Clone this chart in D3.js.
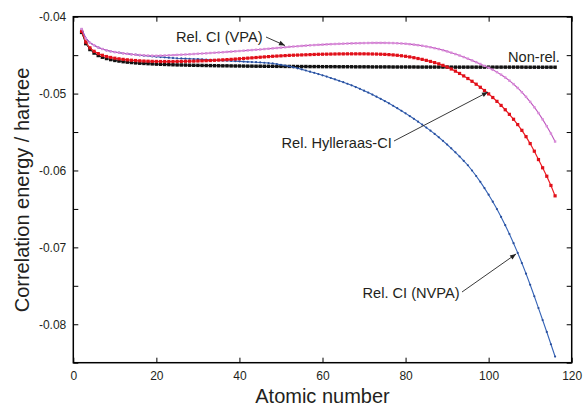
<!DOCTYPE html>
<html><head><meta charset="utf-8">
<script src="https://cdn.jsdelivr.net/npm/d3@7"></script>
<style>
html,body{margin:0;padding:0;background:#fff;}
svg{display:block;font-family:"Liberation Sans",Arial,sans-serif;}
</style></head>
<body><svg id="c" width="583" height="409"></svg>
<script>
// Atomic numbers Z = 2..116
const atomicNumbers = d3.range(2, 117);

const nonRel = [
-0.04204,-0.04350,-0.04427,-0.04473,-0.04505,-0.04527,-0.04544,-0.04558,-0.04569,-0.04577,
-0.04585,-0.04591,-0.04596,-0.04601,-0.04605,-0.04608,-0.04611,-0.04614,-0.04617,-0.04619,
-0.04621,-0.04623,-0.04625,-0.04627,-0.04628,-0.04629,-0.04631,-0.04632,-0.04633,-0.04634,
-0.04635,-0.04636,-0.04637,-0.04638,-0.04639,-0.04639,-0.04640,-0.04641,-0.04641,-0.04642,
-0.04643,-0.04643,-0.04644,-0.04644,-0.04645,-0.04645,-0.04645,-0.04646,-0.04646,-0.04647,
-0.04647,-0.04647,-0.04648,-0.04648,-0.04648,-0.04649,-0.04649,-0.04649,-0.04650,-0.04650,
-0.04650,-0.04650,-0.04651,-0.04651,-0.04651,-0.04651,-0.04652,-0.04652,-0.04652,-0.04652,
-0.04653,-0.04653,-0.04653,-0.04653,-0.04653,-0.04654,-0.04654,-0.04654,-0.04654,-0.04654,
-0.04654,-0.04655,-0.04655,-0.04655,-0.04655,-0.04655,-0.04655,-0.04655,-0.04655,-0.04656,
-0.04656,-0.04656,-0.04656,-0.04656,-0.04656,-0.04656,-0.04656,-0.04656,-0.04656,-0.04656,
-0.04656,-0.04656,-0.04656,-0.04656,-0.04656,-0.04656,-0.04656,-0.04657,-0.04657,-0.04657,
-0.04657,-0.04657,-0.04657,-0.04657,-0.04657];

const relCIVPA = [
-0.04160,-0.04280,-0.04340,-0.04370,-0.04400,-0.04420,-0.04437,-0.04450,-0.04460,-0.04468,
-0.04476,-0.04483,-0.04489,-0.04494,-0.04498,-0.04502,-0.04505,-0.04507,-0.04508,-0.04506,
-0.04504,-0.04502,-0.04500,-0.04497,-0.04494,-0.04491,-0.04488,-0.04485,-0.04482,-0.04479,
-0.04476,-0.04472,-0.04469,-0.04465,-0.04462,-0.04458,-0.04454,-0.04450,-0.04446,-0.04442,
-0.04438,-0.04434,-0.04430,-0.04426,-0.04421,-0.04417,-0.04412,-0.04407,-0.04402,-0.04397,
-0.04392,-0.04388,-0.04384,-0.04380,-0.04376,-0.04372,-0.04369,-0.04366,-0.04363,-0.04360,
-0.04357,-0.04355,-0.04353,-0.04351,-0.04349,-0.04347,-0.04345,-0.04344,-0.04343,-0.04342,
-0.04341,-0.04341,-0.04341,-0.04341,-0.04342,-0.04343,-0.04345,-0.04348,-0.04352,-0.04357,
-0.04363,-0.04370,-0.04378,-0.04387,-0.04397,-0.04409,-0.04421,-0.04435,-0.04451,-0.04468,
-0.04486,-0.04505,-0.04525,-0.04546,-0.04568,-0.04591,-0.04615,-0.04640,-0.04664,-0.04691,
-0.04721,-0.04754,-0.04791,-0.04832,-0.04877,-0.04927,-0.04982,-0.05042,-0.05107,-0.05177,
-0.05253,-0.05335,-0.05424,-0.05520,-0.05624];

const relHylleraasCI = [
-0.04190,-0.04330,-0.04405,-0.04450,-0.04480,-0.04502,-0.04518,-0.04530,-0.04540,-0.04548,
-0.04555,-0.04561,-0.04566,-0.04570,-0.04574,-0.04577,-0.04579,-0.04581,-0.04582,-0.04583,
-0.04583,-0.04583,-0.04583,-0.04582,-0.04581,-0.04580,-0.04579,-0.04578,-0.04576,-0.04574,
-0.04572,-0.04570,-0.04567,-0.04564,-0.04561,-0.04558,-0.04555,-0.04551,-0.04547,-0.04543,
-0.04539,-0.04535,-0.04531,-0.04527,-0.04523,-0.04519,-0.04515,-0.04512,-0.04509,-0.04506,
-0.04503,-0.04501,-0.04499,-0.04497,-0.04495,-0.04493,-0.04491,-0.04489,-0.04488,-0.04487,
-0.04486,-0.04485,-0.04484,-0.04484,-0.04483,-0.04483,-0.04483,-0.04483,-0.04483,-0.04484,
-0.04485,-0.04486,-0.04488,-0.04490,-0.04493,-0.04497,-0.04502,-0.04508,-0.04515,-0.04523,
-0.04533,-0.04544,-0.04555,-0.04568,-0.04582,-0.04597,-0.04613,-0.04633,-0.04655,-0.04680,
-0.04708,-0.04738,-0.04770,-0.04804,-0.04840,-0.04878,-0.04918,-0.04960,-0.05004,-0.05051,
-0.05101,-0.05154,-0.05210,-0.05270,-0.05334,-0.05403,-0.05478,-0.05560,-0.05650,-0.05749,
-0.05858,-0.05965,-0.06075,-0.06195,-0.06330];

const relCINVPA = [
-0.04160,-0.04280,-0.04340,-0.04370,-0.04400,-0.04420,-0.04437,-0.04450,-0.04460,-0.04468,
-0.04476,-0.04483,-0.04489,-0.04494,-0.04502,-0.04507,-0.04512,-0.04517,-0.04521,-0.04525,
-0.04529,-0.04533,-0.04537,-0.04541,-0.04543,-0.04545,-0.04547,-0.04550,-0.04552,-0.04555,
-0.04558,-0.04561,-0.04565,-0.04568,-0.04571,-0.04573,-0.04576,-0.04578,-0.04581,-0.04584,
-0.04587,-0.04590,-0.04592,-0.04595,-0.04599,-0.04603,-0.04608,-0.04616,-0.04625,-0.04635,
-0.04646,-0.04658,-0.04671,-0.04685,-0.04700,-0.04715,-0.04730,-0.04746,-0.04762,-0.04779,
-0.04797,-0.04815,-0.04833,-0.04852,-0.04872,-0.04893,-0.04915,-0.04938,-0.04962,-0.04987,
-0.05013,-0.05040,-0.05068,-0.05097,-0.05127,-0.05158,-0.05190,-0.05223,-0.05257,-0.05292,
-0.05328,-0.05365,-0.05403,-0.05442,-0.05482,-0.05524,-0.05568,-0.05614,-0.05662,-0.05712,
-0.05764,-0.05818,-0.05874,-0.05932,-0.06000,-0.06072,-0.06148,-0.06229,-0.06315,-0.06406,
-0.06502,-0.06604,-0.06712,-0.06826,-0.06946,-0.07072,-0.07204,-0.07342,-0.07486,-0.07636,
-0.07790,-0.07945,-0.08100,-0.08260,-0.08420];

const xTicks = [0, 20, 40, 60, 80, 100, 120];
const yTicksMajor = [-0.08, -0.07, -0.06, -0.05, -0.04];
const yTicksMinor = [-0.085, -0.08, -0.075, -0.07, -0.065, -0.06, -0.055, -0.05, -0.045, -0.04];

const svg = d3.select("#c");
const L = 73.3, R = 571.7, T = 16.7, B = 362.7;
const x = d3.scaleLinear().domain([0, 120]).range([L, R]);
const y = d3.scaleLinear().domain([-0.085, -0.04]).range([B, T]);
const textCol = "#231f20";

svg.append("defs").append("marker")
  .attr("id","ah").attr("viewBox","0 0 10 10").attr("refX",10).attr("refY",5)
  .attr("markerWidth",7).attr("markerHeight",6).attr("markerUnits","userSpaceOnUse")
  .attr("orient","auto")
  .append("path").attr("d","M0,1 L10,5 L0,9 Z").attr("fill","#222");

const series = [
  {v: nonRel, line:"#111", mark:"#111", shape:"sq", size:3.4, lw:1},
  {v: relCINVPA, line:"#3463b6", mark:"#2a4f9c", shape:"dot", size:1.1, lw:1.1},
  {v: relHylleraasCI, line:"#ee1c24", mark:"#e0101a", shape:"sq", size:3.2, lw:1.2},
  {v: relCIVPA, line:"#bd55bd", mark:"#d98cd9", shape:"sq", size:2.4, lw:1.1}
];

const line = d3.line().x((d,i)=>x(atomicNumbers[i])).y(d=>y(d));
series.forEach(s=>{
  const g = svg.append("g");
  g.append("path").attr("d", line(s.v)).attr("fill","none")
    .attr("stroke", s.line).attr("stroke-width", s.lw);
  if (s.shape === "sq") {
    g.selectAll("rect").data(s.v).join("rect")
      .attr("x",(d,i)=>x(atomicNumbers[i]) - s.size/2)
      .attr("y",d=>y(d) - s.size/2)
      .attr("width",s.size).attr("height",s.size).attr("fill",s.mark);
  } else {
    g.selectAll("circle").data(s.v).join("circle")
      .attr("cx",(d,i)=>x(atomicNumbers[i])).attr("cy",d=>y(d))
      .attr("r",s.size).attr("fill",s.mark);
  }
});

// axes
const fmt = v => v.toFixed(2);
const axB = svg.append("g").attr("transform",`translate(0,${B})`)
  .call(d3.axisBottom(x).tickValues(xTicks).tickSize(-5).tickPadding(9).tickFormat(d3.format("d")));
const axT = svg.append("g").attr("transform",`translate(0,${T})`)
  .call(d3.axisTop(x).tickValues(xTicks).tickSize(-5).tickFormat(""));
const axL = svg.append("g").attr("transform",`translate(${L},0)`)
  .call(d3.axisLeft(y).tickValues(yTicksMajor).tickSize(0).tickPadding(7).tickFormat(fmt));
const axLm = svg.append("g").attr("transform",`translate(${L},0)`)
  .call(d3.axisLeft(y).tickValues(yTicksMinor).tickSize(-5).tickFormat(""));
const axR = svg.append("g").attr("transform",`translate(${R},0)`)
  .call(d3.axisRight(y).tickValues(yTicksMinor).tickSize(-5).tickFormat(""));
[axB, axT, axL, axLm, axR].forEach(a=>{
  a.select(".domain").remove();
  a.selectAll("line").attr("stroke","#000").attr("stroke-width",1);
  a.selectAll("text").attr("font-size",12).attr("fill",textCol)
    .attr("font-family",'"Liberation Sans",Arial,sans-serif');
});
svg.append("rect").attr("x",L).attr("y",T).attr("width",R-L).attr("height",B-T)
  .attr("fill","none").attr("stroke","#000").attr("stroke-width",1.5);

// axis titles
svg.append("text").attr("x",(L+R)/2).attr("y",403).attr("text-anchor","middle")
  .attr("font-size",20).attr("fill",textCol).text("Atomic number");
svg.append("text").attr("transform","translate(29,190) rotate(-90)").attr("text-anchor","middle")
  .attr("font-size",20).attr("fill",textCol).text("Correlation energy / hartree");

// annotations
const ann = [
  {t:"Rel. CI (VPA)", x:176, y:42, a:[266,37,285,45.5]},
  {t:"Non-rel.", x:508, y:62, a:null},
  {t:"Rel. Hylleraas-CI", x:281.5, y:147.5, a:[394,141,488,92]},
  {t:"Rel. CI (NVPA)", x:362.5, y:298, a:[462,292,516,254]}
];
ann.forEach(d=>{
  svg.append("text").attr("x",d.x).attr("y",d.y).attr("font-size",14.6)
    .attr("fill",textCol).text(d.t);
  if (d.a) svg.append("line").attr("x1",d.a[0]).attr("y1",d.a[1]).attr("x2",d.a[2]).attr("y2",d.a[3])
    .attr("stroke","#222").attr("stroke-width",0.9).attr("marker-end","url(#ah)");
});
</script></body></html>
